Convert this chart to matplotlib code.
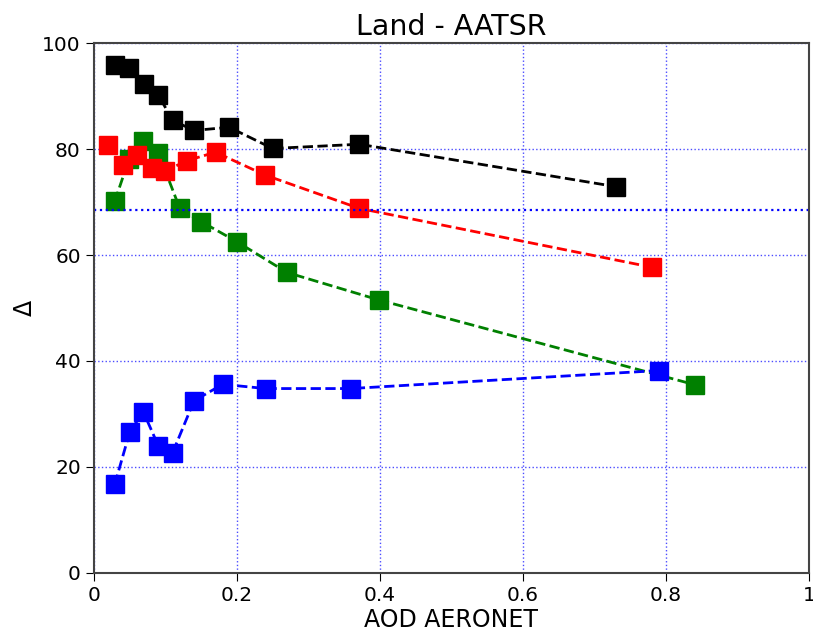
import numpy as np
import matplotlib
matplotlib.use('Agg')
import matplotlib.pyplot as plt

# values
x_black = [0.029, 0.049, 0.070, 0.090, 0.110, 0.140, 0.189, 0.250, 0.371, 0.730]
y_black = [95.8, 95.2, 92.3, 90.2, 85.4, 83.5, 84.1, 80.1, 80.9, 72.9]

x_red = [0.020, 0.040, 0.060, 0.081, 0.099, 0.130, 0.170, 0.239, 0.371, 0.780]
y_red = [80.8, 77.0, 78.9, 76.4, 75.8, 77.8, 79.4, 75.1, 68.8, 57.7]

x_green = [0.029, 0.049, 0.069, 0.090, 0.120, 0.150, 0.200, 0.270, 0.399, 0.841]
y_green = [70.1, 78.1, 81.6, 79.3, 68.8, 66.3, 62.5, 56.7, 51.5, 35.5]

x_blue = [0.029, 0.050, 0.069, 0.090, 0.110, 0.140, 0.180, 0.240, 0.359, 0.790]
y_blue = [16.7, 26.6, 30.4, 24.0, 22.7, 32.5, 35.6, 34.8, 34.8, 38.2]

ref_level = 68.5

fig = plt.figure(figsize=(8.13, 6.42), dpi=100)
ax = fig.add_axes([0.1156, 0.1075, 0.8794, 0.8255])

for xs, ys, c in [(x_green, y_green, 'green'), (x_red, y_red, 'red'),
                  (x_blue, y_blue, 'blue'), (x_black, y_black, 'black')]:
    ax.plot(xs, ys, '--s', color=c, lw=2, ms=13, mec=c)

ax.axhline(ref_level, color='blue', ls=':', lw=1.6)
ax.grid(True, color='blue', ls=':', lw=1, alpha=0.7)

ax.set_xlim(0, 1)
ax.set_ylim(0, 100)
ax.set_xticks([0, 0.2, 0.4, 0.6, 0.8, 1])
ax.set_xticklabels(['0', '0.2', '0.4', '0.6', '0.8', '1'])
ax.set_yticks([0, 20, 40, 60, 80, 100])
ax.tick_params(labelsize=14.5, length=6)
for s in ax.spines.values():
    s.set_color('#444444')
    s.set_linewidth(1.5)

ax.set_xlabel('AOD AERONET', fontsize=17, labelpad=2)
ax.set_ylabel(r'$\Delta$', fontsize=17)
ax.set_title('Land - AATSR', fontsize=20.5, pad=6)

fig.savefig('out.png', dpi=100)
